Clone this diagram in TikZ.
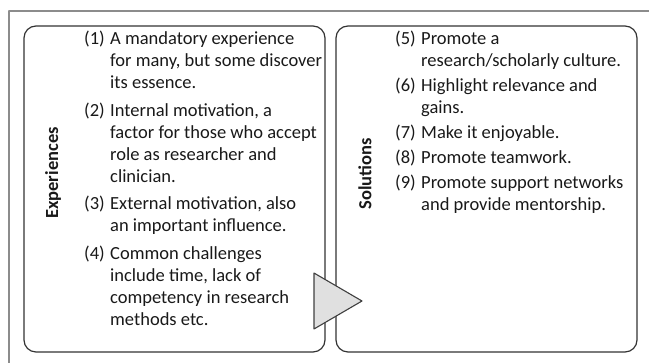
\documentclass[tikz,border=0pt]{standalone}
\usepackage{fontspec}
\setmainfont{Carlito}
\usetikzlibrary{calc}

\begin{document}
\begin{tikzpicture}[line cap=round,line join=round,x=1pt,y=1pt,
    frameline/.style={line width=1.4pt,color=black!45},
    boxline/.style={line width=1.2pt,color=black!80,rounded corners=12pt},
    arrowtri/.style={line width=1.1pt,draw=black!75,fill=black!12},
    listtext/.style={inner sep=0pt,anchor=base west,text=black!90,font=\fontsize{18.5}{22}\selectfont},
    sidelabel/.style={inner sep=0pt,rotate=90,text=black!90,font=\fontsize{18.5}{22}\selectfont\bfseries}]
                \useasboundingbox (0,0) rectangle (649,363);
                \draw [frameline] (9,0)-- (9,352);
                \draw [frameline] (9,352)-- (649,352);
                \node[listtext] (explist) at (84,318) {\begin{tabular}[t]{@{}p{26pt}@{}l@{}}
                    (1)&A mandatory experience\\
                    &for many, but some discover\\
                    &its essence.\\[5.5pt]
                    (2)&Internal motivation, a\\
                    &factor for those who accept\\
                    &role as researcher and\\
                    &clinician.\\[5.5pt]
                    (3)&External motivation, also\\
                    &an important influence.\\[5.5pt]
                    (4)&Common challenges\\
                    &include time, lack of\\
                    &competency in research\\
                    &methods etc.
                \end{tabular}};
                \node[listtext] (sollist) at (395,318) {\begin{tabular}[t]{@{}p{26pt}@{}l@{}}
                    (5)&Promote a\\
                    &research/scholarly culture.\\[3pt]
                    (6)&Highlight relevance and\\
                    &gains.\\[3pt]
                    (7)&Make it enjoyable.\\[3pt]
                    (8)&Promote teamwork.\\[3pt]
                    (9)&Promote support networks\\
                    &and provide mentorship.
                \end{tabular}};
                \draw [boxline] (24,11) rectangle (325,337);
                \draw [boxline] (336,11) rectangle (637,337);
                \node[sidelabel] (explbl) at (53,190) {Experiences};
                \node[sidelabel] (sollbl) at (365,189) {Solutions};
                \draw [arrowtri] (314,90)-- (362,62)-- (314,34)-- cycle;
\end{tikzpicture}
\end{document}
